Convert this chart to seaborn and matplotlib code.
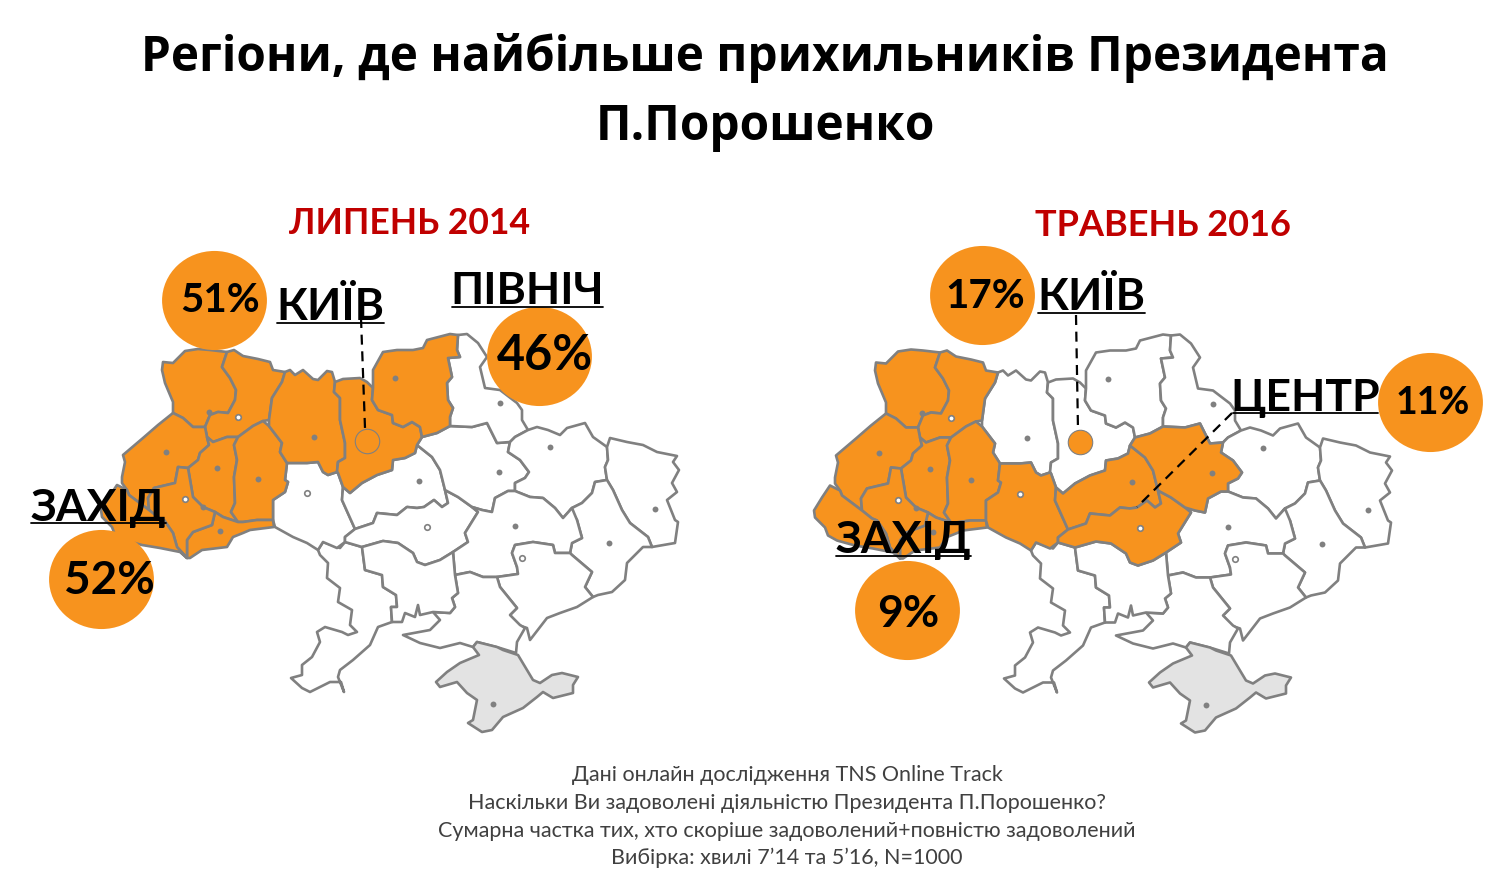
import matplotlib as mpl
mpl.use('Agg')
import matplotlib.pyplot as plt
from matplotlib.path import Path
from matplotlib.transforms import Affine2D
import pandas as pd
import seaborn as sb

# oblast outlines
VOLYN = [(163, 362), (173, 363), (185, 351), (198, 349), (210, 350), (227, 352), (222, 367), (230, 378), (236, 390), (235, 400), (228, 413), (218, 412), (210, 415), (205, 427), (193, 427), (183, 418), (173, 413), (173, 402), (165, 383), (162, 370)]
RIVNE = [(227, 352), (234, 350), (243, 356), (258, 359), (270, 362), (273, 370), (285, 372), (282, 382), (272, 398), (269, 420), (263, 421), (253, 426), (238, 437), (227, 437), (213, 442), (207, 437), (205, 427), (210, 415), (218, 412), (228, 413), (235, 400), (236, 390), (230, 378), (222, 367)]
ZHYTOMYR = [(285, 372), (290, 370), (295, 375), (303, 370), (313, 379), (318, 380), (327, 371), (332, 372), (335, 382), (334, 392), (340, 398), (340, 420), (345, 443), (345, 458), (338, 462), (337, 472), (328, 475), (323, 472), (318, 462), (307, 463), (287, 463), (280, 452), (282, 443), (269, 426), (269, 420), (272, 398), (282, 382)]
LVIV = [(173, 413), (183, 418), (193, 427), (205, 427), (207, 437), (209, 445), (200, 453), (198, 460), (188, 468), (178, 467), (175, 483), (154, 488), (148, 498), (149, 510), (129, 495), (127, 490), (122, 483), (122, 477), (125, 462), (123, 455), (143, 438), (158, 425)]
TERNOPIL = [(207, 437), (213, 442), (227, 437), (238, 437), (234, 445), (237, 460), (234, 477), (235, 503), (231, 512), (238, 522), (223, 517), (215, 512), (203, 507), (193, 497), (188, 468), (198, 460), (200, 453), (209, 445)]
KHMELNYTSKYI = [(238, 437), (253, 426), (263, 421), (269, 426), (282, 443), (280, 452), (287, 463), (285, 480), (288, 482), (285, 492), (273, 500), (273, 520), (257, 520), (243, 522), (238, 522), (231, 512), (235, 503), (234, 477), (237, 460), (234, 445)]
CHERNIVTSI = [(215, 512), (223, 517), (238, 522), (243, 522), (257, 520), (273, 520), (274, 527), (250, 530), (243, 533), (233, 537), (227, 547), (202, 550), (190, 558), (187, 558), (187, 540), (193, 532), (212, 525)]
FRANKIVSK = [(178, 467), (188, 468), (193, 497), (203, 507), (215, 512), (212, 525), (193, 532), (187, 540), (187, 558), (177, 547), (173, 533), (164, 520), (159, 518), (149, 510), (148, 498), (154, 488), (175, 483)]
ZAKARPATTIA = [(117, 485), (127, 490), (129, 495), (149, 510), (159, 518), (164, 520), (173, 533), (177, 547), (187, 558), (180, 552), (160, 548), (142, 545), (124, 540), (115, 535), (112, 527), (102, 517), (101, 510), (109, 497)]
KYIV_OBL = [(335, 382), (343, 379), (360, 378), (367, 382), (373, 388), (372, 400), (378, 410), (392, 415), (393, 423), (403, 427), (412, 422), (420, 427), (422, 437), (417, 445), (415, 453), (405, 458), (393, 460), (392, 470), (377, 475), (362, 483), (350, 493), (343, 487), (338, 473), (337, 472), (338, 462), (345, 458), (345, 443), (340, 420), (340, 398), (334, 392)]
CHERNIHIV = [(373, 388), (373, 370), (383, 352), (397, 350), (413, 350), (423, 348), (427, 340), (450, 334), (458, 335), (457, 350), (460, 357), (448, 358), (452, 377), (447, 383), (448, 400), (453, 408), (450, 417), (450, 426), (437, 433), (422, 437), (420, 427), (412, 422), (403, 427), (393, 423), (392, 415), (378, 410), (372, 400)]
SUMY = [(458, 335), (467, 334), (478, 343), (487, 357), (480, 367), (485, 388), (500, 390), (517, 403), (522, 410), (522, 420), (528, 430), (515, 437), (510, 442), (497, 443), (487, 423), (472, 427), (450, 426), (450, 417), (453, 408), (448, 400), (447, 383), (452, 377), (448, 358), (460, 357), (457, 350)]
POLTAVA = [(422, 437), (437, 433), (450, 426), (472, 427), (487, 423), (497, 443), (510, 442), (508, 452), (520, 460), (529, 472), (525, 478), (515, 483), (515, 491), (508, 491), (495, 498), (492, 512), (482, 510), (472, 507), (458, 497), (445, 490), (440, 470), (432, 457), (417, 445)]
KHARKIV = [(528, 430), (537, 427), (548, 430), (560, 435), (567, 428), (585, 423), (593, 437), (607, 447), (608, 460), (605, 467), (607, 480), (595, 482), (592, 493), (582, 503), (572, 508), (563, 518), (555, 508), (543, 498), (530, 497), (515, 491), (515, 483), (525, 478), (529, 472), (520, 460), (508, 452), (510, 442), (515, 437)]
LUHANSK = [(607, 447), (610, 438), (627, 442), (643, 445), (657, 452), (677, 456), (673, 462), (679, 470), (672, 483), (677, 492), (667, 500), (675, 520), (678, 522), (675, 543), (652, 547), (648, 537), (630, 523), (622, 510), (613, 490), (607, 480), (605, 467), (608, 460)]
DONETSK = [(607, 480), (613, 490), (622, 510), (630, 523), (648, 537), (652, 547), (643, 547), (627, 563), (625, 580), (612, 592), (598, 595), (593, 597), (585, 587), (592, 572), (572, 555), (570, 553), (572, 543), (582, 538), (577, 520), (570, 510), (572, 508), (582, 503), (592, 493), (595, 482)]
DNIPRO = [(515, 491), (530, 497), (543, 498), (555, 508), (563, 518), (572, 508), (577, 520), (582, 538), (572, 543), (570, 553), (555, 553), (553, 545), (533, 542), (515, 545), (512, 553), (517, 567), (518, 574), (497, 577), (483, 577), (470, 572), (455, 575), (453, 552), (468, 542), (465, 533), (478, 512), (472, 507), (482, 510), (492, 512), (495, 498), (508, 491)]
ZAPORIZHZHIA = [(512, 553), (515, 545), (533, 542), (553, 545), (555, 553), (570, 553), (572, 555), (592, 572), (585, 587), (593, 597), (577, 607), (560, 613), (547, 618), (530, 640), (527, 628), (518, 625), (510, 615), (517, 608), (500, 587), (497, 577), (518, 574), (517, 567)]
KHERSON = [(455, 575), (470, 572), (483, 577), (497, 577), (500, 587), (517, 608), (510, 615), (520, 625), (525, 628), (517, 642), (516, 653), (500, 648), (477, 642), (473, 647), (460, 643), (440, 648), (420, 643), (403, 635), (430, 630), (440, 620), (433, 612), (450, 613), (455, 607), (452, 598), (458, 593)]
MYKOLAIV = [(362, 547), (383, 541), (398, 543), (413, 553), (417, 562), (425, 565), (440, 560), (453, 552), (455, 575), (458, 593), (452, 598), (455, 607), (450, 613), (433, 612), (420, 615), (418, 605), (415, 617), (405, 613), (402, 622), (392, 622), (391, 607), (397, 607), (396, 595), (383, 587), (382, 575), (365, 570)]
ODESA = [(318, 550), (323, 542), (340, 548), (345, 542), (362, 547), (365, 570), (382, 575), (383, 587), (396, 595), (397, 607), (391, 607), (392, 622), (378, 627), (370, 645), (353, 660), (340, 670), (338, 677), (344, 692), (341, 682), (330, 682), (310, 692), (302, 688), (291, 678), (302, 675), (302, 665), (312, 657), (320, 642), (317, 632), (325, 627), (342, 632), (348, 635), (357, 632), (350, 625), (352, 610), (338, 602), (340, 588), (327, 578), (328, 563), (320, 555)]
VINNYTSIA = [(287, 463), (307, 463), (318, 462), (323, 472), (328, 475), (337, 472), (338, 473), (343, 487), (342, 500), (355, 529), (345, 537), (345, 542), (337, 548), (323, 542), (318, 550), (307, 543), (293, 537), (275, 527), (273, 520), (273, 500), (285, 492), (288, 482), (285, 480)]
CHERKASY = [(343, 487), (350, 493), (362, 483), (377, 475), (392, 470), (393, 460), (405, 458), (415, 453), (417, 445), (432, 457), (440, 470), (445, 490), (448, 503), (442, 507), (434, 500), (424, 507), (417, 508), (407, 507), (397, 515), (377, 513), (373, 523), (355, 529), (342, 500)]
KIROVOHRAD = [(355, 529), (373, 523), (377, 513), (397, 515), (407, 507), (417, 508), (424, 507), (434, 500), (442, 507), (448, 503), (445, 490), (458, 497), (472, 507), (478, 512), (465, 533), (468, 542), (453, 552), (440, 560), (425, 565), (417, 562), (413, 553), (398, 543), (383, 541), (362, 547), (345, 542), (345, 537)]
CRIMEA = [(477, 642), (473, 647), (479, 655), (460, 663), (447, 672), (436, 682), (440, 687), (457, 682), (467, 693), (477, 700), (473, 720), (468, 723), (482, 732), (492, 730), (503, 717), (523, 708), (537, 697), (543, 692), (553, 698), (573, 693), (573, 685), (578, 677), (562, 673), (552, 675), (540, 683), (533, 680), (518, 655), (503, 650), (497, 647)]

white_2014 = [ODESA, VINNYTSIA, CHERKASY, KIROVOHRAD, POLTAVA, SUMY, KHARKIV, LUHANSK, DONETSK, DNIPRO, ZAPORIZHZHIA, KHERSON, MYKOLAIV]
orange_2014 = [VOLYN, RIVNE, LVIV, TERNOPIL, KHMELNYTSKYI, CHERNIVTSI, FRANKIVSK, ZAKARPATTIA, ZHYTOMYR, KYIV_OBL, CHERNIHIV]
white_2016 = [ODESA, ZHYTOMYR, KYIV_OBL, CHERNIHIV, SUMY, KHARKIV, LUHANSK, DONETSK, DNIPRO, ZAPORIZHZHIA, KHERSON, MYKOLAIV]
orange_2016 = [VOLYN, RIVNE, LVIV, TERNOPIL, KHMELNYTSKYI, CHERNIVTSI, FRANKIVSK, ZAKARPATTIA, VINNYTSIA, CHERKASY, KIROVOHRAD, POLTAVA]

# oblast centres, left map
dots_x = [209, 217, 166, 203, 258, 220, 314, 395, 500, 419, 499, 550, 515, 609, 655, 493]
dots_y = [412, 468, 452, 507, 479, 531, 437, 378, 403, 481, 472, 447, 526, 543, 509, 704]
rings_x = [238, 185, 307, 427, 522]
rings_y = [417, 499, 493, 527, 558]

title_lines = ["Регіони, де найбільше прихильників Президента", "П.Порошенко"]
footer_lines = ["Дані онлайн дослідження TNS Online Track",
                "Наскільки Ви задоволені діяльністю Президента П.Порошенко?",
                "Сумарна частка тих, хто скоріше задоволений+повністю задоволений",
                "Вибірка: хвилі 7’14 та 5’16, N=1000"]

# the bubbles
values = ["51%", "46%", "52%", "17%", "11%", "9%"]
bubble_x = [214, 539, 101, 982, 1430, 907]
bubble_y = [300, 356, 579, 295, 402, 610]
value_x = [220, 545, 109, 985, 1433, 908]
value_y = [301, 356, 581, 296, 403, 614]
value_size = [29, 35, 33, 29, 27, 32]

# region labels: text, left end, right end of underline, underline height
labels = ["КИЇВ", "ПІВНІЧ", "ЗАХІД", "КИЇВ", "ЦЕНТР", "ЗАХІД"]
label_x0 = [277, 452, 31, 1038, 1233, 836]
label_x1 = [384, 603, 166, 1145, 1378, 971]
label_y = [323, 307, 523, 313, 413, 556]

ORANGE = '#F7931E'
GREY = '#808080'
MAP_SHIFT = 713

sb.set_theme(style="white")
plt.rcParams['font.family'] = ['Lato', 'Open Sans', 'DejaVu Sans']

fig, ax = plt.subplots(figsize=(15.02, 8.85), dpi=100)
fig.subplots_adjust(left=0, bottom=0, right=1, top=1)
ax.set_xlim(0, 1502)
ax.set_ylim(885, 0)
ax.axis('off')


def draw_map(white, orange, dx, dy):
    for shape, colour, z in [(s, 'white', 1) for s in white] + [(s, ORANGE, 2) for s in orange] + [(CRIMEA, '#E3E3E3', 1)]:
        xs = [p[0] + dx for p in shape]
        ys = [p[1] + dy for p in shape]
        ax.fill(xs, ys, facecolor=colour, edgecolor=GREY, linewidth=1.9, joinstyle='round', zorder=z)
    dots = pd.DataFrame({'x': [x + dx for x in dots_x], 'y': [y + dy for y in dots_y]})
    sb.scatterplot(data=dots, x='x', y='y', ax=ax, s=18, color=GREY, linewidth=0, zorder=3, legend=False)
    rings = pd.DataFrame({'x': [x + dx for x in rings_x], 'y': [y + dy for y in rings_y]})
    sb.scatterplot(data=rings, x='x', y='y', ax=ax, s=16, color='white', edgecolor=GREY, linewidth=1.2, zorder=3, legend=False)


draw_map(white_2014, orange_2014, 0, 0)
draw_map(white_2016, orange_2016, MAP_SHIFT, 0.5)

# Kyiv city marks and leader lines
kyiv = pd.DataFrame({'x': [367, 1080], 'y': [441, 442]})
sb.scatterplot(data=kyiv, x='x', y='y', ax=ax, s=310, color=ORANGE, edgecolor=GREY, linewidth=0.8, zorder=4, legend=False)
for xs, ys in [([361, 365], [318, 428]), ([1076, 1078], [315, 430]), ([1232, 1137], [413, 507])]:
    ax.plot(xs, ys, color='black', linewidth=1.6, linestyle=(0, (4.5, 3)), zorder=4)

# slightly wider than tall, as in the picture
bubble_marker = Path.unit_circle().transformed(Affine2D().scale(1, 0.945))
bubbles = pd.DataFrame({'x': bubble_x, 'y': bubble_y})
sb.scatterplot(data=bubbles, x='x', y='y', ax=ax, s=5700, marker=bubble_marker, color=ORANGE, linewidth=0,
               zorder=5, legend=False)
for txt, x, y, size in zip(values, value_x, value_y, value_size):
    ax.text(x, y, txt, fontsize=size, fontweight='bold', ha='center', va='center', color='black', zorder=6)

for txt, x0, x1, y in zip(labels, label_x0, label_x1, label_y):
    ax.text((x0 + x1) / 2, y - 2.5, txt, fontsize=32, fontweight='bold', ha='center', va='baseline', color='black', zorder=7)
    ax.plot([x0, x1], [y, y], color='black', linewidth=1.3, zorder=7)

title_font = ['Open Sans', 'DejaVu Sans']
ax.text(765, 58, title_lines[0], fontsize=34.4, fontweight='bold', family=title_font, ha='center', va='center', color='black')
ax.text(765, 128, title_lines[1], fontsize=34.4, fontweight='bold', family=title_font, ha='center', va='center', color='black')
ax.text(410, 224, "ЛИПЕНЬ 2014", fontsize=25.6, fontweight='bold', ha='center', va='center', color='#C00000')
ax.text(1163, 226, "ТРАВЕНЬ 2016", fontsize=26, fontweight='bold', ha='center', va='center', color='#C00000')

for txt, y in zip(footer_lines, [775, 803, 831, 858]):
    ax.text(787, y, txt, fontsize=15.5, ha='center', va='center', color='#404040')

fig.savefig('out.png', dpi=100, facecolor='white')
